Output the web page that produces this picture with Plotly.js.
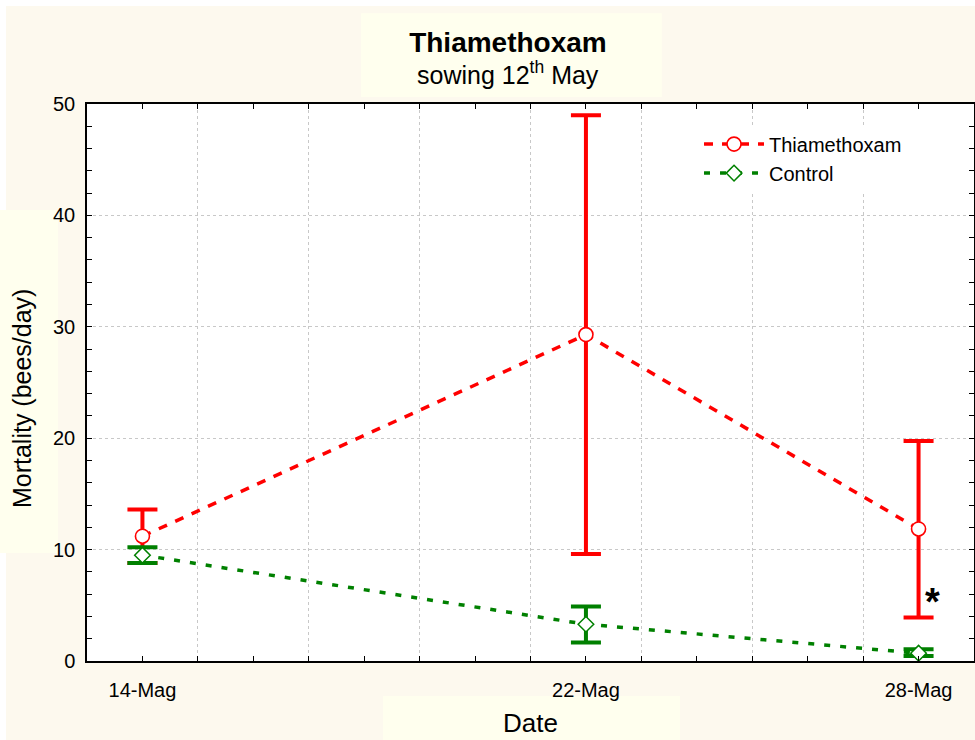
<!DOCTYPE html>
<html>
<head>
<meta charset="utf-8">
<script src="https://cdn.plot.ly/plotly-3.0.1.min.js"></script>
<style>
body{margin:0;padding:0;background:#ffffff;}
#chart{width:975px;height:740px;}
</style>
</head>
<body>
<div id="chart"></div>
<script>
// Data (x = day of May)
var dates = [14, 22, 28];
var dateLabels = ['14-Mag', '22-Mag', '28-Mag'];
var thiaMean = [11.2, 29.3, 11.85];
var thiaUpper = [13.6, 49.0, 19.75];
var thiaLower = [8.8, 9.6, 3.9];
var ctrlMean = [9.5, 3.3, 0.7];
var ctrlUpper = [10.2, 4.9, 1.05];
var ctrlLower = [8.8, 1.65, 0.45];

function plus(u, m){ return u.map(function(v,i){ return v - m[i]; }); }
function minus(l, m){ return l.map(function(v,i){ return m[i] - v; }); }

var allDays = [];
for (var d = 13; d <= 29; d++) allDays.push(d);
var allText = allDays.map(function(d){ var k = dates.indexOf(d); return k >= 0 ? dateLabels[k] : ''; });
var gridDays = [15, 17, 19, 21, 23, 25, 27];

var traces = [
  {
    x: dates, y: thiaMean, name: 'Thiamethoxam', type: 'scatter', mode: 'lines+markers',
    line: {color: '#ff0000', width: 3.5, dash: '9px,9px'},
    marker: {symbol: 'circle', size: 14, color: '#ffffff', line: {width: 1.6, color: '#ff0000'}},
    error_y: {type: 'data', symmetric: false, array: plus(thiaUpper, thiaMean), arrayminus: minus(thiaLower, thiaMean),
              color: '#ff0000', thickness: 4, width: 15}
  },
  {
    x: dates, y: ctrlMean, name: 'Control', type: 'scatter', mode: 'lines+markers',
    line: {color: '#008000', width: 3.5, dash: '6px,10px'},
    marker: {symbol: 'diamond', size: 12, color: '#ffffff', line: {width: 1.5, color: '#008000'}},
    error_y: {type: 'data', symmetric: false, array: plus(ctrlUpper, ctrlMean), arrayminus: minus(ctrlLower, ctrlMean),
              color: '#008000', thickness: 4, width: 15}
  }
];

var boxColor = '#ffffee';
var FONT = 'Arial, Liberation Sans, sans-serif';
var layout = {
  width: 975, height: 740,
  paper_bgcolor: '#fdf9ee',
  plot_bgcolor: '#ffffff',
  margin: {l: 87, r: 1, t: 104, b: 79, pad: 0},
  font: {family: FONT, color: '#000000', size: 20},
  title: {
    text: '<b>Thiamethoxam</b>',
    x: 0.4746, xref: 'paper', xanchor: 'center',
    y: 0.9432, yref: 'container', yanchor: 'middle',
    font: {family: FONT, size: 28, color: '#000000'}
  },
  xaxis: {
    range: [13, 29], tickmode: 'array', tickvals: allDays, ticktext: allText,
    ticks: 'inside', ticklen: 5, tickcolor: '#000000', tickwidth: 1,
    showgrid: false, zeroline: false,
    showline: true, linecolor: '#000000', linewidth: 1.5, mirror: 'ticks',
    tickfont: {size: 20}, ticklabelstandoff: 10,
    minor: {tickmode: 'array', tickvals: gridDays, ticks: '', showgrid: true, gridcolor: '#c8c8c8', griddash: 'dot', gridwidth: 1},
    title: {text: 'Date', font: {size: 26}, standoff: 14}
  },
  yaxis: {
    range: [0, 50], tickmode: 'linear', tick0: 0, dtick: 10,
    ticks: 'inside', ticklen: 5, tickcolor: '#000000',
    showgrid: true, gridcolor: '#c8c8c8', griddash: 'dot', gridwidth: 1, zeroline: false,
    showline: true, linecolor: '#000000', linewidth: 1.5, mirror: 'ticks',
    tickfont: {size: 20}, ticklabelstandoff: 6,
    minor: {tickmode: 'linear', tick0: 0, dtick: 2, ticks: 'inside', ticklen: 5, tickcolor: '#000000', showgrid: false}
  },
  legend: {
    x: 0.69, y: 0.963, xanchor: 'left', yanchor: 'top',
    bgcolor: '#ffffff', font: {size: 20}, itemwidth: 60, tracegroupgap: 0
  },
  showlegend: true,
  shapes: [
    {type: 'rect', xref: 'paper', yref: 'paper', x0: -0.0981, x1: 1.01, y0: 1.1759, y1: 1.19, fillcolor: '#ffffff', line: {width: 0}, layer: 'below'},
    {type: 'rect', xref: 'paper', yref: 'paper', x0: -0.0981, x1: -0.0913, y0: -0.15, y1: 1.19, fillcolor: '#ffffff', line: {width: 0}, layer: 'below'},
    {type: 'rect', xref: 'paper', yref: 'paper', x0: 0.309, x1: 0.648, y0: 1.0126, y1: 1.163, fillcolor: boxColor, line: {width: 0}, layer: 'below'},
    {type: 'rect', xref: 'paper', yref: 'paper', x0: -0.0981, x1: -0.0327, y0: 0.194, y1: 0.8097, fillcolor: boxColor, line: {width: 0}, layer: 'below'},
    {type: 'rect', xref: 'paper', yref: 'paper', x0: 0.3337, x1: 0.6685, y0: -0.1418, y1: -0.0628, fillcolor: boxColor, line: {width: 0}, layer: 'below'}
  ],
  annotations: [
    {x: 0.4746, y: 1.0557, xref: 'paper', yref: 'paper', text: 'sowing 12<sup>th</sup> May', showarrow: false,
     font: {size: 25, color: '#000000'}, xanchor: 'center', yanchor: 'middle'},
    {x: -0.0733, y: 0.472, xref: 'paper', yref: 'paper', text: 'Mortality (bees/day)', textangle: -90, showarrow: false,
     font: {size: 25, color: '#000000'}, xanchor: 'center', yanchor: 'middle'},
    {x: 28.25, y: 5.3, xref: 'x', yref: 'y', text: '<b>*</b>', showarrow: false, font: {size: 38, color: '#000000'}, xanchor: 'center', yanchor: 'middle'}
  ]
};

Plotly.newPlot('chart', traces, layout, {displayModeBar: false});
</script>
</body>
</html>
